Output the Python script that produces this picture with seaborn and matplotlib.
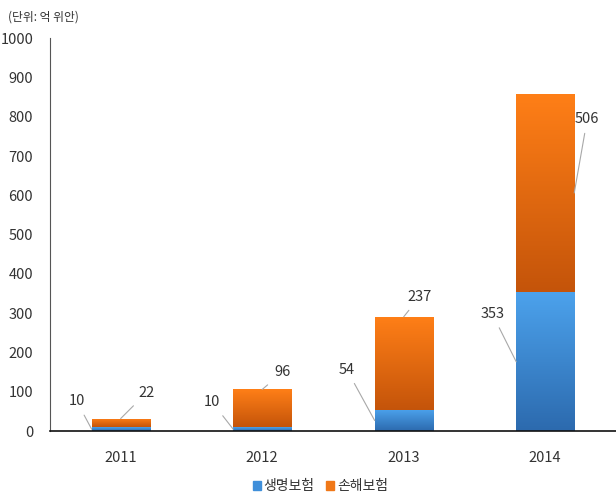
import numpy as np
import pandas as pd
import seaborn as sns
import matplotlib.pyplot as plt
from matplotlib.colors import LinearSegmentedColormap
from matplotlib.patches import Patch

years = ['2011', '2012', '2013', '2014']
life = [10, 10, 54, 353]        # 생명보험
nonlife = [22, 96, 237, 506]    # 손해보험
series_names = ['생명보험', '손해보험']

df = pd.DataFrame({'year': years, 'life': life, 'nonlife': nonlife})
df['total'] = df['life'] + df['nonlife']

sns.set_theme(style='white')
plt.rcParams['font.family'] = ['Liberation Sans Narrow', 'Noto Sans CJK KR', 'DejaVu Sans']

fig = plt.figure(figsize=(6.16, 4.95), dpi=100)
ax = fig.add_axes([0.081, 0.129, 0.919, 0.794])

bw = 0.41
sns.barplot(data=df, x='year', y='total', color='#F07818', width=bw, ax=ax, saturation=1)
sns.barplot(data=df, x='year', y='life', color='#3F8FDA', width=bw, ax=ax, saturation=1)

# gradient fills, light at top, dark at bottom
orange_cm = LinearSegmentedColormap.from_list('o', ['#C4540A', '#FF7F17'])
blue_cm = LinearSegmentedColormap.from_list('b', ['#2C6AAE', '#4CA2EC'])
grad = np.linspace(0, 1, 256).reshape(-1, 1)
n = len(years)
for i, p in enumerate(ax.patches):
    x0 = p.get_x()
    x1 = x0 + p.get_width()
    if i < n:
        y0, y1, cm = df['life'][i], df['total'][i], orange_cm
    else:
        y0, y1, cm = 0, df['life'][i - n], blue_cm
    im = ax.imshow(grad, extent=[x0, x1, y0, y1], origin='lower', cmap=cm,
                   aspect='auto', zorder=p.get_zorder() + 0.1)
    im.set_clip_path(p)

ax.set_xlim(-0.5, n - 0.5)
ax.set_ylim(0, 1000)
ax.set_yticks(range(0, 1001, 100))
ax.set_xlabel('')
ax.set_ylabel('')
sns.despine(ax=ax, top=True, right=True)
ax.spines['bottom'].set_color('#111111')
ax.spines['bottom'].set_linewidth(1.2)
ax.spines['left'].set_color('#555555')
ax.spines['left'].set_linewidth(0.8)
ax.tick_params(axis='both', length=0, labelsize=10.5, colors='#333333')
ax.tick_params(axis='y', pad=12)
ax.tick_params(axis='x', pad=14)

# data labels with leader lines (offsets in pixels)
life_off = [(-15, 28), (-21, 27), (-28, 51), (-24, 48)]
non_off = [(26, 26), (20, 17), (16, 20), (13, 74)]
line_kw = dict(arrowstyle='-', color='#A8A8A8', lw=0.8, shrinkA=3, shrinkB=0)
for i in range(n):
    ax.annotate(str(life[i]), xy=(i - bw / 2, life[i] / 2), xytext=life_off[i],
                textcoords='offset pixels', ha='center', va='center',
                fontsize=10.5, color='#333333', arrowprops=line_kw, zorder=5)
    if i < n - 1:
        anchor = (i, df['total'][i])
    else:
        anchor = (i + bw / 2, life[i] + nonlife[i] / 2)
    ax.annotate(str(nonlife[i]), xy=anchor, xytext=non_off[i],
                textcoords='offset pixels', ha='center', va='center',
                fontsize=10.5, color='#333333', arrowprops=line_kw, zorder=5)

fig.text(0.013, 0.965, '(단위: 억 위안)', fontsize=8.5, color='#333333', va='center',
         family=['Noto Sans CJK KR', 'DejaVu Sans'])

handles = [Patch(color='#3F8FDA'), Patch(color='#F07818')]
fig.legend(handles, series_names, loc='center', bbox_to_anchor=(0.52, 0.018), ncol=2,
           frameon=False, handlelength=0.6, handleheight=0.6, handletextpad=0.2,
           columnspacing=0.8, prop={'family': ['Noto Sans CJK KR', 'DejaVu Sans'], 'size': 10})
for t in fig.legends[0].get_texts():
    t.set_color('#333333')

fig.savefig('out.png', dpi=100)
